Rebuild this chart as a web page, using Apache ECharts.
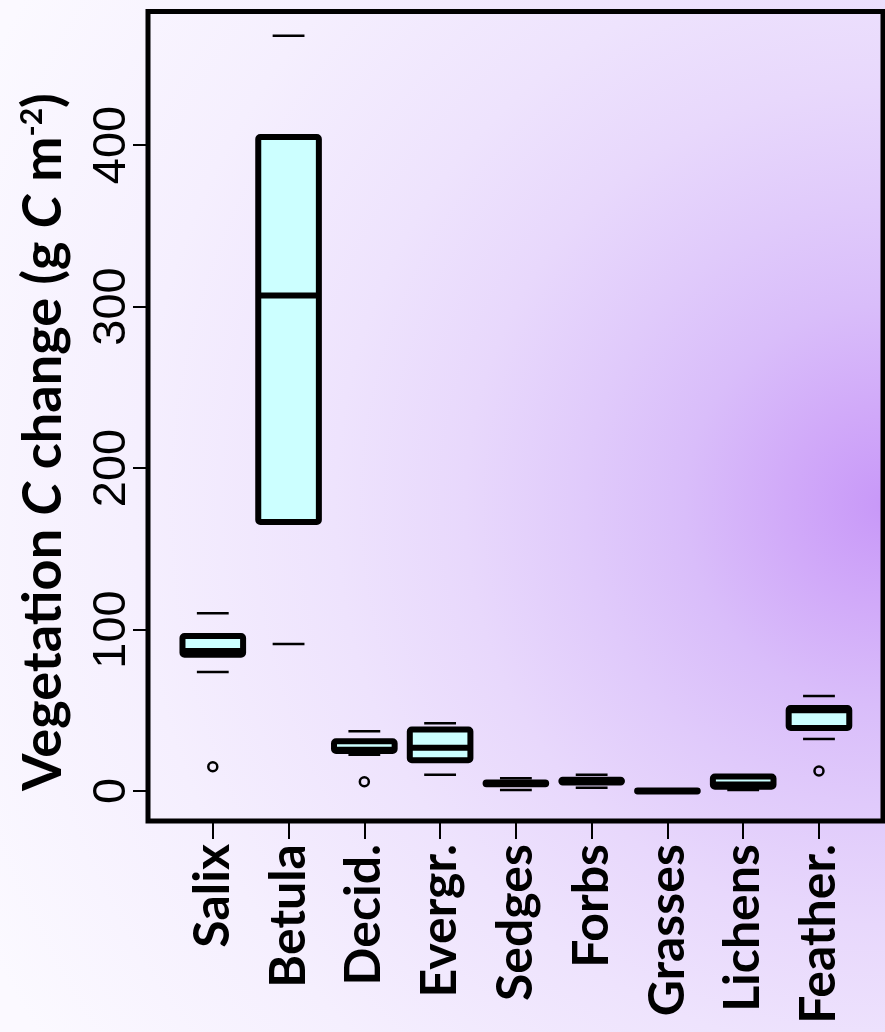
<!DOCTYPE html>
<html><head><meta charset="utf-8">
<script src="https://cdn.jsdelivr.net/npm/echarts@6/dist/echarts.min.js"></script>
<style>html,body{margin:0;padding:0;background:#fbf9ff}#c{width:885px;height:1032px}</style>
</head><body><div id="c"></div>
<script>
const categories = ['Salix','Betula','Decid.','Evergr.','Sedges','Forbs','Grasses','Lichens','Feather.'];
const lowerCap = [73.7, 91, 22.5, 10, 0.6, 2, -0.3, 0.6, 32.2];
const q1 = [84.4, 166.6, 24.8, 19, 4.2, 5.3, -0.3, 2.6, 39];
const median = [86.7, 306.9, 25.5, 26.7, 4.7, 6, 0, 4, 50];
const q3 = [96, 405, 30.8, 38, 5.3, 7, 0.3, 9, 51.4];
const upperCap = [110, 467.7, 37, 42, 7.8, 10, 0.3, 9.5, 58.8];
const outlierCategory = [0, 2, 8];
const outlierValue = [15, 5.7, 12.4];
const yTicks = [0, 100, 200, 300, 400];
const xTicks = categories.map((c, i) => i);

const boxData = categories.map((c, i) => [i, lowerCap[i], q1[i], median[i], q3[i], upperCap[i]]);
const outlierData = outlierCategory.map((c, k) => [c, outlierValue[k]]);

const chart = echarts.init(document.getElementById('c'), null, {renderer: 'canvas'});
chart.setOption({
  animation: false,
  backgroundColor: {
    type: 'radial', x: 885, y: 505, r: 1000, global: true,
    colorStops: [
      {offset: 0, color: '#c898f8'},
      {offset: 0.1, color: '#d1aaf9'},
      {offset: 0.2, color: '#d9bdfa'},
      {offset: 0.3, color: '#e0cafb'},
      {offset: 0.42, color: '#e8d8fc'},
      {offset: 0.55, color: '#eee3fd'},
      {offset: 0.75, color: '#f5effe'},
      {offset: 1, color: '#fbf9ff'}
    ]
  },
  grid: {left: 148, right: 2, top: 11.5, bottom: 211, show: true,
         borderColor: '#000', borderWidth: 5, backgroundColor: 'transparent'},
  xAxis: {
    type: 'value', min: -0.855, max: 8.845,
    axisLine: {show: false, onZero: false}, splitLine: {show: false},
    axisTick: {show: true, customValues: xTicks, length: 18, lineStyle: {color: '#000', width: 2}},
    axisLabel: {customValues: xTicks, formatter: v => categories[Math.round(v)], rotate: 90, margin: 23,
      fontFamily: 'Lato', fontWeight: 'bold', fontSize: 50, color: '#000'}
  },
  yAxis: {
    type: 'value', min: -18.6, max: 482.7,
    axisLine: {show: false, onZero: false}, splitLine: {show: false},
    axisTick: {show: true, customValues: yTicks, length: 15, lineStyle: {color: '#000', width: 2}},
    axisLabel: {customValues: yTicks, rotate: 90, margin: 12,
      fontFamily: 'Liberation Sans', fontSize: 47, color: '#000'}
  },
  graphic: [{
    type: 'text', x: 44, y: 442, rotation: Math.PI / 2,
    style: {
      text: 'Vegetation {it|C} change (g {it|C} m{sup|-2})',
      font: 'bold 54px Lato', fill: '#000', align: 'center', verticalAlign: 'middle',
      rich: {
        it: {fontStyle: 'italic', fontWeight: 'bold', fontSize: 54, fontFamily: 'Lato'},
        sup: {fontSize: 30, fontWeight: 'bold', fontFamily: 'Lato', verticalAlign: 'top'}
      }
    }
  }],
  series: [{
    type: 'custom',
    data: boxData,
    renderItem: function (params, api) {
      const i = api.value(0);
      const half = api.size([0.4, 0])[0];
      const capHalf = api.size([0.21, 0])[0];
      const cx = api.coord([i, 0])[0];
      const y = v => api.coord([i, v])[1];
      const lo = y(api.value(1)), a = y(api.value(2)), m = y(api.value(3)), b = y(api.value(4)), hi = y(api.value(5));
      return {type: 'group', children: [
        {type: 'line', shape: {x1: cx - capHalf, y1: hi, x2: cx + capHalf, y2: hi}, style: {stroke: '#000', lineWidth: 2.5}},
        {type: 'line', shape: {x1: cx - capHalf, y1: lo, x2: cx + capHalf, y2: lo}, style: {stroke: '#000', lineWidth: 2.5}},
        {type: 'rect', shape: {x: cx - half, y: b, width: 2 * half, height: a - b, r: 2},
          style: {fill: '#ccffff', stroke: '#000', lineWidth: 6, lineJoin: 'round'}},
        {type: 'line', shape: {x1: cx - half, y1: m, x2: cx + half, y2: m}, style: {stroke: '#000', lineWidth: 6}}
      ]};
    }
  }, {
    type: 'scatter',
    data: outlierData,
    symbol: 'circle', symbolSize: 9,
    itemStyle: {color: 'rgba(0,0,0,0)', borderColor: '#000', borderWidth: 2.5, opacity: 1}
  }]
});
</script></body></html>
